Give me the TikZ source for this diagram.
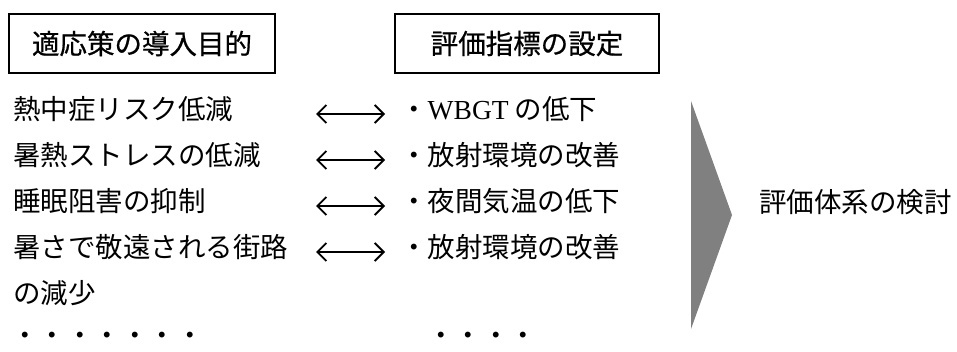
\documentclass[tikz,border=0pt]{standalone}
\usepackage{fontspec}
\setmainfont{Liberation Serif}
\newfontfamily\jp{Noto Sans CJK JP}
\newfontfamily\jpt{Noto Sans CJK JP}[FakeBold=0.7]
\newfontfamily\lat{Liberation Serif}
\usetikzlibrary{arrows.meta}
\definecolor{arrowgray}{RGB}{128,128,128}
\begin{document}
\begin{tikzpicture}[x=1pt,y=-1pt,
  font=\fontsize{27.5}{33}\selectfont\jp,
  titlebox/.style={draw, line width=1.1pt, minimum width=266pt, minimum height=59pt, inner sep=0pt, font=\fontsize{27.5}{33}\selectfont\jpt},
  rowtext/.style={anchor=west, inner sep=0pt, text height=0.88em, text depth=0.12em},
  dottext/.style={anchor=west, inner sep=0pt, text height=0.45em, text depth=-0.3em},
  barb/.tip={Straight Barb[length=9pt,width=18pt,line width=1.9pt]},
  dblarrow/.style={line width=1.9pt, {barb}-{barb}}
]
\useasboundingbox (0,0) rectangle (957,352);

% title boxes
\node[titlebox] (t1) at (142,43.5) {適応策の導入目的};
\node[titlebox, minimum width=264pt] (t2) at (527,43.5) {評価指標の設定};

% left column
\node[rowtext] (l1) at (13,116) {熱中症リスク低減};
\node[rowtext] (l2) at (13,162) {暑熱ストレスの低減};
\node[rowtext] (l3) at (13,208) {睡眠阻害の抑制};
\node[rowtext] (l4) at (13,254) {暑さで敬遠される街路};
\node[rowtext] (l5) at (13,300) {の減少};
\node[dottext] (l6) at (11,343) {・・・・・・・};

% right column
\node[rowtext] (r1) at (400,116) {・{\lat WBGT} の低下};
\node[rowtext] (r2) at (400,162) {・放射環境の改善};
\node[rowtext] (r3) at (400,208) {・夜間気温の低下};
\node[rowtext] (r4) at (400,254) {・放射環境の改善};
\node[dottext] (r5) at (427,343) {・・・・};

% double arrows
\foreach \i/\y in {1/114,2/160,3/206,4/252}{
  \coordinate (a\i s) at (316,\y);
  \coordinate (a\i e) at (385,\y);
  \draw[dblarrow] (a\i s) -- (a\i e);
}

% big arrow
\coordinate (bt) at (691,101);
\coordinate (tip) at (732,215);
\coordinate (bb) at (691,329);
\fill[arrowgray] (bt) -- (tip) -- (bb) -- cycle;

\node[rowtext, anchor=east] (ev) at (952,209) {評価体系の検討};
\end{tikzpicture}
\end{document}
